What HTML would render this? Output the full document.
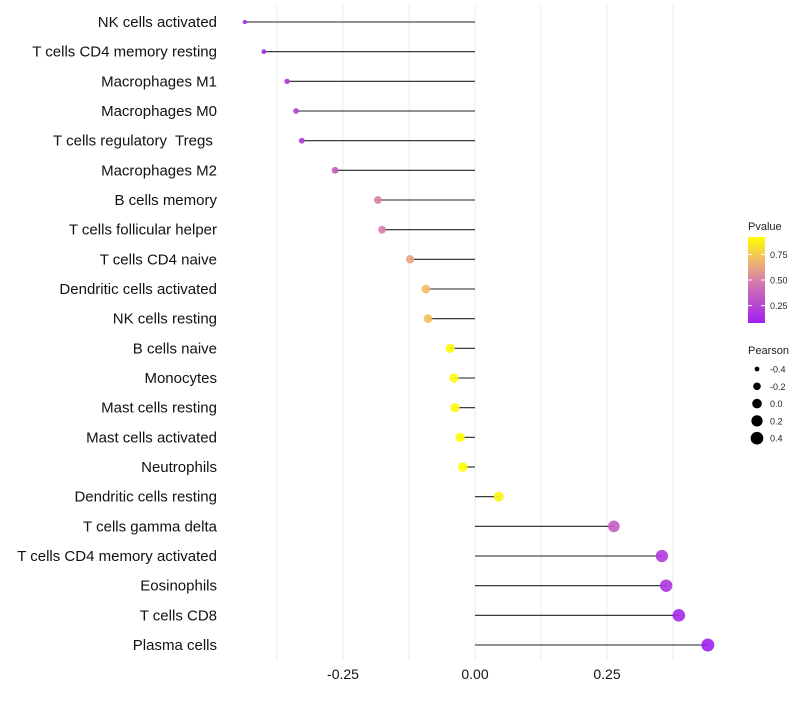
<!DOCTYPE html>
<html><head><meta charset="utf-8"><style>
body{margin:0;background:#fff;font-family:"Liberation Sans",sans-serif}
</style></head><body>
<svg id="chart" width="800" height="700" xmlns="http://www.w3.org/2000/svg" font-family="Liberation Sans, sans-serif"></svg>
<script>
const categories=["NK cells activated","T cells CD4 memory resting","Macrophages M1","Macrophages M0","T cells regulatory  Tregs\u00a0","Macrophages M2","B cells memory","T cells follicular helper","T cells CD4 naive","Dendritic cells activated","NK cells resting","B cells naive","Monocytes","Mast cells resting","Mast cells activated","Neutrophils","Dendritic cells resting","T cells gamma delta","T cells CD4 memory activated","Eosinophils","T cells CD8","Plasma cells"];
const pearson=[-0.436,-0.400,-0.356,-0.339,-0.328,-0.265,-0.184,-0.176,-0.123,-0.093,-0.089,-0.047,-0.040,-0.038,-0.028,-0.023,0.045,0.263,0.354,0.362,0.386,0.441];
const pvalues=[0.08,0.12,0.2,0.22,0.2,0.35,0.5,0.5,0.62,0.7,0.72,0.9,0.9,0.9,0.92,0.95,0.88,0.35,0.2,0.18,0.12,0.08];
const xTicks=[-0.25,0,0.25];
const xTickLabels=["-0.25","0.00","0.25"];
const pTicks=[0.25,0.5,0.75];
const sizeTicks=[-0.4,-0.2,0,0.2,0.4];

const svg=document.getElementById('chart');
const NS="http://www.w3.org/2000/svg";
function mk(t,a,p){const e=document.createElementNS(NS,t);for(const k in a)e.setAttribute(k,a[k]);(p||svg).appendChild(e);return e;}
const xs=v=>475+v*528;
const ys=i=>22+i*29.667;
const rs=v=>Math.sqrt(4+Math.max(0,(v+0.44)/0.88)*38);
const pMin=0.08,pMax=0.92;
const stops=[[0,[160,32,240]],[0.5,[215,128,168]],[0.75,[243,190,100]],[1,[255,255,0]]];
function col(p){let t=Math.max(0,Math.min(1,(p-pMin)/(pMax-pMin)));for(let i=1;i<stops.length;i++){if(t<=stops[i][0]){const a=stops[i-1],b=stops[i],f=(t-a[0])/(b[0]-a[0]);const c=a[1].map((v,j)=>Math.round(v+(b[1][j]-v)*f));return `rgb(${c})`;}}return 'rgb(255,255,0)';}

for(let g=-0.375;g<=0.40;g+=0.125){const l=mk('line',{x1:xs(g),x2:xs(g),y1:5,y2:660,stroke:'#ebebeb','stroke-width':1});

}
xTicks.forEach((v,i)=>{const t=mk('text',{x:xs(v),y:679,'text-anchor':'middle','font-size':14,fill:'#111'});t.textContent=xTickLabels[i];

});
categories.forEach((c,i)=>{
const y=ys(i);
const t=mk('text',{x:217,y:y+5,'text-anchor':'end','font-size':15,fill:'#111'});t.textContent=c;
t.setAttribute('xml:space','preserve');
t.style.whiteSpace='pre';


const l=mk('line',{x1:xs(0),x2:xs(pearson[i]),y1:y,y2:y,stroke:'#222','stroke-width':1.1});


const d=mk('circle',{cx:xs(pearson[i]),cy:y,r:rs(pearson[i]),fill:col(pvalues[i]),'fill-opacity':0.9});


});
const lt=mk('text',{x:748,y:230,'font-size':11,fill:'#222'});lt.textContent='Pvalue';


const defs=mk('defs',{});const gr=mk('linearGradient',{id:'pg',x1:0,y1:1,x2:0,y2:0},defs);
stops.forEach(s=>mk('stop',{offset:s[0],'stop-color':`rgb(${s[1]})`},gr));
const cb=mk('rect',{x:748,y:237,width:17,height:86,fill:'url(#pg)'});


pTicks.forEach(p=>{const y=323-(p-pMin)/(pMax-pMin)*86;
mk('line',{x1:748,x2:752,y1:y,y2:y,stroke:'#fff'});mk('line',{x1:761,x2:765,y1:y,y2:y,stroke:'#fff'});
const t=mk('text',{x:770,y:y+3.5,'font-size':9,fill:'#222'});t.textContent=p.toFixed(2);

});
const st=mk('text',{x:748,y:354,'font-size':11,fill:'#222'});st.textContent='Pearson';


sizeTicks.forEach((v,i)=>{const y=369+i*17.3;
const c=mk('circle',{cx:757,cy:y,r:rs(v),fill:'#000'});


const t=mk('text',{x:770,y:y+3.5,'font-size':9,fill:'#222'});t.textContent=v.toFixed(1);

});
</script>
</body></html>
